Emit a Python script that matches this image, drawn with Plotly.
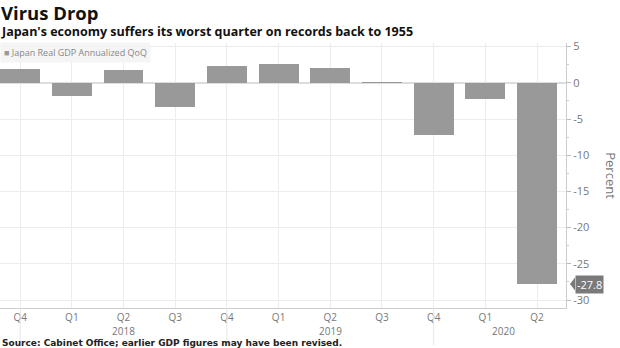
import plotly.graph_objects as go

# Quarterly data, Q4 2017 through Q2 2020
quarters = ["Q4", "Q1", "Q2", "Q3", "Q4", "Q1", "Q2", "Q3", "Q4", "Q1", "Q2"]
gdp_qoq = [1.9, -1.8, 1.8, -3.3, 2.3, 2.6, 2.1, 0.1, -7.2, -2.2, -27.8]
year_labels = ["2018", "2019", "2020"]
year_label_pos = [2, 6, 9.35]
year_break_pos = [0, 4, 8]
y_ticks = [5, 0, -5, -10, -15, -20, -25, -30]
series_name = "Japan Real GDP Annualized QoQ"

x = list(range(len(quarters)))
bar_color = "#999999"
grid_color = "#ececec"
text_color = "#777777"

fig = go.Figure()
fig.add_trace(go.Bar(
    x=x, y=gdp_qoq, width=0.77,
    marker=dict(color=bar_color, line=dict(width=0)),
    name=series_name, showlegend=False,
))

shapes = []
# light separators between years, extending into the year label row
for p in year_break_pos:
    shapes.append(dict(type="line", xref="x", yref="paper", x0=p, x1=p, y0=0, y1=-0.14,
                       line=dict(color="#e6e6e6", width=1)))

# pointer on the value badge of the last bar
last = gdp_qoq[-1]
px = 1 / 566
shapes.append(dict(type="path", xref="paper", yref="y",
                   path=f"M {1 + 4*px} {last} L {1 + 9*px} {last + 0.9} L {1 + 9*px} {last - 0.9} Z",
                   fillcolor="#7a7a7a", line=dict(width=0)))

annotations = [
    dict(xref="x", yref="paper", x=p, y=0, yshift=-23, text=t, showarrow=False, borderpad=0,
         font=dict(family="Open Sans", size=10, color=text_color), xanchor="center", yanchor="middle")
    for p, t in zip(year_label_pos, year_labels)
]
annotations += [
    dict(xref="paper", yref="paper", x=0, y=1, yshift=31, yanchor="middle", xanchor="left",
         text="<b>Virus Drop</b>", showarrow=False, borderpad=0,
         font=dict(family="Open Sans", size=18.5, color="#111111")),
    dict(xref="paper", yref="paper", x=0, y=1, yshift=12, yanchor="middle", xanchor="left",
         text="<b>Japan's economy suffers its worst quarter on records back to 1955</b>", showarrow=False,
         borderpad=0, font=dict(family="Open Sans", size=12.5, color="#111111")),
    dict(xref="paper", yref="paper", x=0.002, y=0, yshift=-34.5, yanchor="middle", xanchor="left",
         text="<b>Source: Cabinet Office; earlier GDP figures may have been revised.</b>", showarrow=False,
         borderpad=0, font=dict(family="DejaVu Sans", size=9, color="#222222")),
    # series key in the top-left corner
    dict(xref="paper", yref="paper", x=0, y=1, yshift=-9, yanchor="middle", xanchor="left",
         text=f"<span style='color:{bar_color}'>■</span> {series_name}", showarrow=False,
         bgcolor="rgba(244,244,244,0.9)", borderpad=3,
         font=dict(family="Open Sans", size=9, color="#888888")),
    dict(xref="paper", yref="paper", x=1.08, y=0.5, text="Percent", textangle=90, showarrow=False,
         font=dict(family="Open Sans", size=13, color=text_color), xanchor="center", yanchor="middle"),
    dict(xref="paper", yref="y", x=1, y=last, xshift=9, xanchor="left", yanchor="middle",
         text=f"{last}", showarrow=False, bgcolor="#7a7a7a", borderpad=1,
         font=dict(family="Open Sans", size=11, color="#ffffff")),
]

fig.update_layout(
    width=620, height=348,
    margin=dict(l=0, r=54, t=43, b=40),
    paper_bgcolor="white", plot_bgcolor="white",
    bargap=0,
    showlegend=False,
    shapes=shapes,
    annotations=annotations,
    xaxis=dict(range=[-0.39, 10.56], tickmode="array", tickvals=x, ticktext=quarters,
               showgrid=True, gridcolor=grid_color, zeroline=False,
               showline=True, linecolor="#cccccc", linewidth=1,
               ticks="", tickfont=dict(family="Open Sans", size=10, color=text_color)),
    yaxis=dict(side="right", range=[-31.1, 5.5], tickmode="array", tickvals=y_ticks,
               ticktext=[str(v) for v in y_ticks],
               showgrid=True, gridcolor=grid_color, zeroline=True, zerolinecolor="#dddddd",
               showline=True, linecolor="#cccccc", linewidth=1,
               ticks="outside", ticklen=4, tickcolor="#bbbbbb",
               minor=dict(ticks="outside", dtick=2.5, ticklen=2, tickcolor="#cccccc", showgrid=False),
               tickfont=dict(family="Open Sans", size=11, color=text_color)),
)

fig.write_html("out.html")
